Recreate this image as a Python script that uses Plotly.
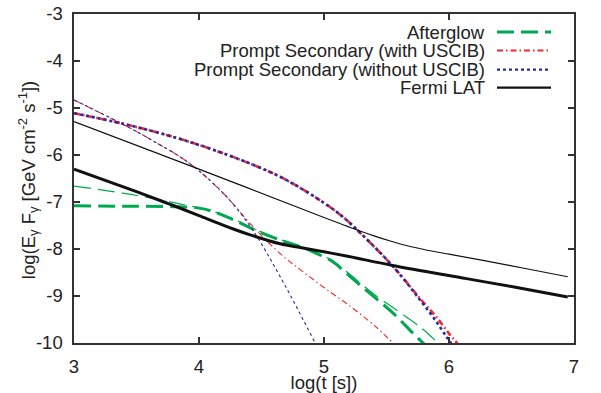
import plotly.graph_objects as go

# ---- data (log t [s], log flux) ----
afterglow_thick_x = [3.0, 3.4, 3.8, 4.0, 4.12, 4.3, 4.44, 4.65, 4.81, 4.92, 5.07, 5.18, 5.37, 5.555, 5.715, 5.8]
afterglow_thick_y = [-7.08, -7.09, -7.10, -7.13, -7.21, -7.41, -7.59, -7.81, -7.95, -8.07, -8.27, -8.52, -8.95, -9.37, -9.80, -10.02]
afterglow_thin_x = [3.0, 3.4, 3.72, 3.9, 4.1, 4.3, 4.44, 4.65, 4.81, 4.92, 5.07, 5.18, 5.39, 5.58, 5.77, 5.92]
afterglow_thin_y = [-6.66, -6.815, -6.97, -7.07, -7.19, -7.39, -7.57, -7.80, -7.94, -8.06, -8.25, -8.48, -8.94, -9.30, -9.66, -10.02]

with_thick_x = [3.0, 3.4, 3.8, 4.2, 4.6, 4.81, 5.0, 5.13, 5.26, 5.555, 5.78, 5.9, 6.0, 6.07]
with_thick_y = [-5.11, -5.34, -5.62, -5.97, -6.40, -6.70, -7.02, -7.27, -7.58, -8.38, -9.09, -9.45, -9.80, -10.02]
without_thick_x = [3.0, 3.4, 3.8, 4.2, 4.6, 4.81, 5.0, 5.13, 5.26, 5.555, 5.77, 5.9, 5.98, 6.02]
without_thick_y = [-5.11, -5.34, -5.62, -5.97, -6.40, -6.70, -7.02, -7.27, -7.58, -8.38, -9.09, -9.55, -9.87, -10.02]

with_thin_x = [3.0, 3.35, 3.6, 3.92, 4.2, 4.43, 4.65, 4.81, 5.0, 5.2, 5.4, 5.56]
with_thin_y = [-4.83, -5.29, -5.65, -6.17, -6.83, -7.52, -8.10, -8.44, -8.82, -9.20, -9.62, -10.02]
without_thin_x = [3.0, 3.35, 3.6, 3.92, 4.2, 4.41, 4.65, 4.93, 4.97]
without_thin_y = [-4.83, -5.29, -5.65, -6.17, -6.83, -7.52, -8.59, -10.0, -10.2]

fermi_thick_x = [3.0, 3.5, 3.72, 3.8, 4.0, 4.28, 4.41, 4.65, 4.81, 5.0, 5.2, 5.55, 6.14, 6.5, 6.95]
fermi_thick_y = [-6.30, -6.78, -7.00, -7.08, -7.29, -7.58, -7.70, -7.89, -7.97, -8.06, -8.16, -8.35, -8.63, -8.80, -9.02]
fermi_thin_x = [3.0, 4.0, 5.0, 5.26, 5.4, 5.53, 5.65, 5.8, 6.0, 6.25, 6.6, 6.95]
fermi_thin_y = [-5.29, -6.30, -7.33, -7.59, -7.72, -7.83, -7.92, -8.01, -8.11, -8.23, -8.41, -8.59]

x_ticks = [3, 4, 5, 6, 7]
x_tick_labels = ["3", "4", "5", "6", "7"]
y_ticks = [-3, -4, -5, -6, -7, -8, -9, -10]
y_tick_labels = ["-3", "-4", "-5", "-6", "-7", "-8", "-9", "-10"]

legend_names = ["Afterglow", "Prompt Secondary (with USCIB)",
                "Prompt Secondary (without USCIB)", "Fermi LAT"]
x_title = "log(t [s])"
y_title = "log(E<sub>γ</sub> F<sub>γ</sub> [GeV cm<sup>-2</sup> s<sup>-1</sup>])"

GREEN = "#00a850"
RED = "#f02830"
BLUE = "#2a2a9c"
BLACK = "#111111"
DASH_G = "17px,7px"
DASH_R = "6px,3px,1.5px,3px"

fig = go.Figure()

def add(x, y, color, width, dash):
    fig.add_trace(go.Scatter(x=x, y=y, mode="lines", showlegend=False,
                             line=dict(color=color, width=width, dash=dash,
                                       shape="spline", smoothing=1.0),
                             hoverinfo="skip"))

add(afterglow_thin_x, afterglow_thin_y, GREEN, 1.2, DASH_G)
add(afterglow_thick_x, afterglow_thick_y, GREEN, 3, DASH_G)
add(with_thin_x, with_thin_y, RED, 1.1, DASH_R)
add(without_thin_x, without_thin_y, BLUE, 1.1, "dot")
add(with_thick_x, with_thick_y, RED, 2.6, DASH_R)
add(without_thick_x, without_thick_y, BLUE, 2.6, "dot")
add(fermi_thin_x, fermi_thin_y, BLACK, 1.2, "solid")
add(fermi_thick_x, fermi_thick_y, BLACK, 3, "solid")

FONT = "Liberation Sans, Arial, sans-serif"
TXT = "#222222"
FS = 18.5

# manual legend (text on the left, sample on the right, like gnuplot)
leg_styles = [(GREEN, 3, DASH_G), (RED, 2.2, DASH_R), (BLUE, 2.2, "dot"), (BLACK, 2.2, "solid")]
leg_y = [0.945, 0.889, 0.831, 0.776]
for name, (c, w, d), yy in zip(legend_names, leg_styles, leg_y):
    fig.add_annotation(x=0.824, y=yy, xref="paper", yref="paper", text=name,
                       showarrow=False, xanchor="right", yanchor="middle", borderpad=0,
                       font=dict(family=FONT, size=FS, color=TXT))
    fig.add_shape(type="line", xref="paper", yref="paper", x0=0.846, x1=0.954,
                  y0=yy, y1=yy, line=dict(color=c, width=w, dash=d))

# y-axis title placed as a rotated annotation
fig.add_annotation(x=-0.092, y=0.495, xref="paper", yref="paper", text=y_title,
                   textangle=-90, showarrow=False, xanchor="center", yanchor="middle",
                   font=dict(family=FONT, size=FS, color=TXT))

axis_common = dict(showline=True, linecolor="#333333", linewidth=1.6, mirror="ticks",
                   ticks="inside", ticklen=6, tickwidth=1.3, tickcolor="#333333",
                   showgrid=False, zeroline=False, automargin=False,
                   ticklabeloverflow="allow",
                   tickfont=dict(family=FONT, size=FS, color=TXT))

fig.update_xaxes(range=[3, 7], tickvals=x_ticks, ticktext=x_tick_labels,
                 ticklabelstandoff=6,
                 title=dict(text=x_title, font=dict(family=FONT, size=FS, color=TXT), standoff=2),
                 **axis_common)
fig.update_yaxes(range=[-10, -3], tickvals=y_ticks, ticktext=y_tick_labels,
                 ticklabelstandoff=6, **axis_common)

fig.update_layout(width=601, height=393, margin=dict(l=74, r=27, t=14, b=50),
                  plot_bgcolor="white", paper_bgcolor="white", hovermode=False,
                  font=dict(family=FONT, size=FS, color=TXT))

# remove the default 8px page margin so the figure sits at the window's corner
fig.write_html("out.html", config={"displayModeBar": False, "staticPlot": True},
               post_script="document.body.style.margin='0';")
